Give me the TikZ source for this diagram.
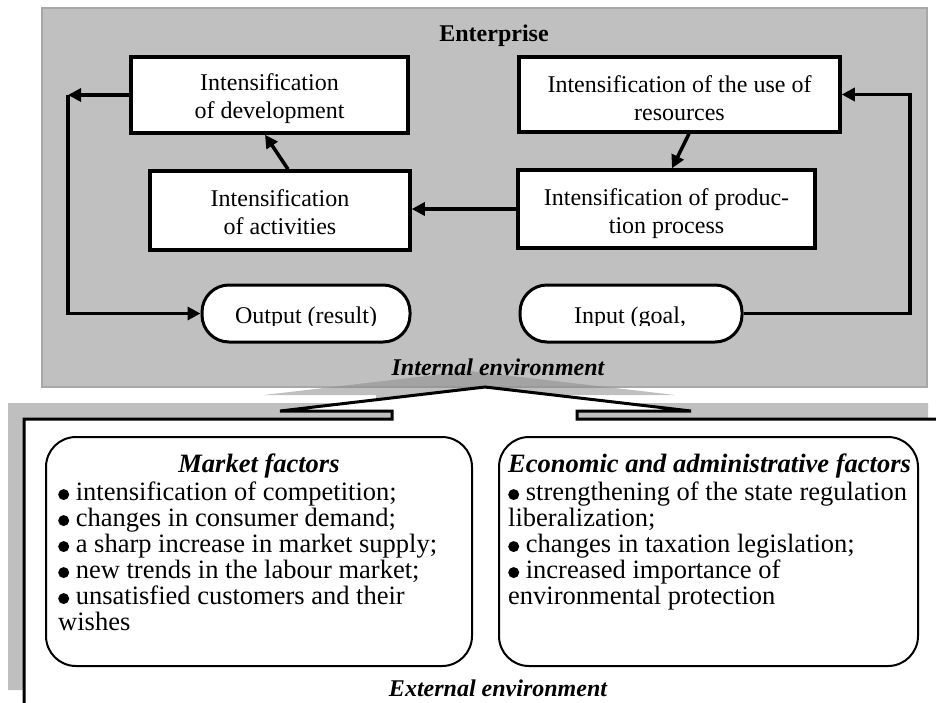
\documentclass[tikz,border=0pt]{standalone}
\usepackage{fontspec}
\setmainfont{Liberation Serif}
\usetikzlibrary{arrows.meta}
\definecolor{panelgray}{RGB}{192,192,192}
\definecolor{panelline}{RGB}{168,168,168}
\definecolor{shadowgray}{RGB}{142,142,142}
\newcommand{\bul}{\tikz[baseline=0pt,x=1pt,y=1pt]\fill[black] (5.5pt,6.3pt) circle[radius=5.5pt];}
\begin{document}
\begin{tikzpicture}[x=1pt,y=-1pt,
  toptxt/.style={font=\fontsize{24}{28}\selectfont, inner sep=0pt, align=center},
  bottxt/.style={font=\fontsize{26.5}{26}\selectfont, inner sep=0pt, align=left},
  box/.style={draw, line width=3.5pt, fill=white, inner sep=0pt},
  pill/.style={draw, line width=3pt, fill=white, rounded corners=27pt, inner sep=0pt},
  conn/.style={line width=3.5pt, -{Triangle[length=13pt,width=13pt]}},
  factor/.style={draw, line width=2pt, fill=white, rounded corners=30pt, inner sep=0pt},
  heading/.style={font=\fontsize{24}{28}\selectfont\bfseries\itshape, inner sep=0pt},
  bigheading/.style={font=\fontsize{26.5}{26}\selectfont\bfseries\itshape, inner sep=0pt},
]
\useasboundingbox (0,0) rectangle (936,702);
\clip (0,0) rectangle (936,702);
\fill[white] (0,0) rectangle (936,702);
% internal environment panel
\draw[fill=panelgray, draw=panelline, line width=1.5pt] (42,8) rectangle (927,387);
% callout shadow
\fill[shadowgray, fill opacity=0.56, xshift=-16pt, yshift=16pt]
  (24,706) -- (24,419) -- (392,419) -- (392,411) -- (280,411) -- (485,387)
  -- (691,411) -- (577,411) -- (577,419) -- (944,419) -- (944,706) -- cycle;
% external environment callout
\draw[fill=white, line width=3pt, line join=miter]
  (24,706) -- (24,419) -- (392,419) -- (392,411) -- (280,411) -- (485,387)
  -- (691,411) -- (577,411) -- (577,419) -- (944,419) -- (944,706) -- cycle;

\node[font=\fontsize{24}{28}\selectfont\bfseries, inner sep=0pt] (ent) at (494,36) {Enterprise};

% boxes
\node[box, minimum width=277pt, minimum height=76pt] (dev) at (269.5,95) {};
\node[box, minimum width=260pt, minimum height=79pt] (act) at (280,210.5) {};
\node[box, minimum width=321pt, minimum height=75pt] (res) at (679.5,94.5) {};
\node[box, minimum width=297pt, minimum height=78pt] (prod) at (666.5,209) {};
\node[toptxt] (devt) at ([yshift=-4pt]dev.center) {Intensification\\of development};
\node[toptxt] (actt) at ([yshift=-2pt]act.center) {Intensification\\of activities};
\node[toptxt] (rest) at ([yshift=-4pt]res.center) {Intensification of the use of\\resources};
\node[toptxt] (prodt) at ([yshift=-5pt]prod.center) {Intensification of produc-\\tion process};

% output / input
\node[pill, minimum width=208pt, minimum height=57pt] (out) at (306,313.5) {};
\node[pill, minimum width=222pt, minimum height=57pt] (in) at (631,313.5) {};
\begin{scope}
  \clip (200,280) rectangle (750,325);
  \node[toptxt, anchor=base] (outt) at (306,323) {Output (result)};
  \node[toptxt, anchor=base] (intx) at (630,323) {Input (goal,};
\end{scope}

% connectors
\coordinate (lt) at (68,95);
\coordinate (rt) at (910,95);
\draw[conn] (dev.west) -- (dev.west -| lt);
\draw[conn] (dev.west -| lt) |- (out.west);
\draw[conn] (in.east) -| (res.east -| rt) -- (res.east);
\draw[conn] ([xshift=8pt]act.north) -- ([xshift=-4.5pt]dev.south);
\draw[conn] ([xshift=9.5pt]res.south) -- ([xshift=5.5pt]prod.north);
\draw[conn] ([xshift=4pt]prod.west) -- (prod.west -| act.east);

\node[heading] (intenv) at (498,367) {Internal environment};

% external factors
\node[factor, minimum width=426pt, minimum height=229pt] (mk) at (259,551.5) {};
\node[factor, minimum width=419pt, minimum height=229pt] (ec) at (708.5,551.5) {};
\node[bigheading] (mkt) at (259,466) {Market factors};
\node[bottxt, anchor=north west] (mkl) at (58,482)
  {\bul\ intensification of competition;\\
   \bul\ changes in consumer demand;\\
   \bul\ a sharp increase in market supply;\\
   \bul\ new trends in the labour market;\\
   \bul\ unsatisfied customers and their\\
   wishes};
\node[bigheading, anchor=west] (ect) at (508,466) {Economic and administrative factors};
\node[bottxt, anchor=north west] (ecl) at (508,482)
  {\bul\ strengthening of the state regulation\\
   liberalization;\\
   \bul\ changes in taxation legislation;\\
   \bul\ increased importance of\\
   environmental protection};

\node[heading] (extenv) at (498,688) {External environment};
\end{tikzpicture}
\end{document}
